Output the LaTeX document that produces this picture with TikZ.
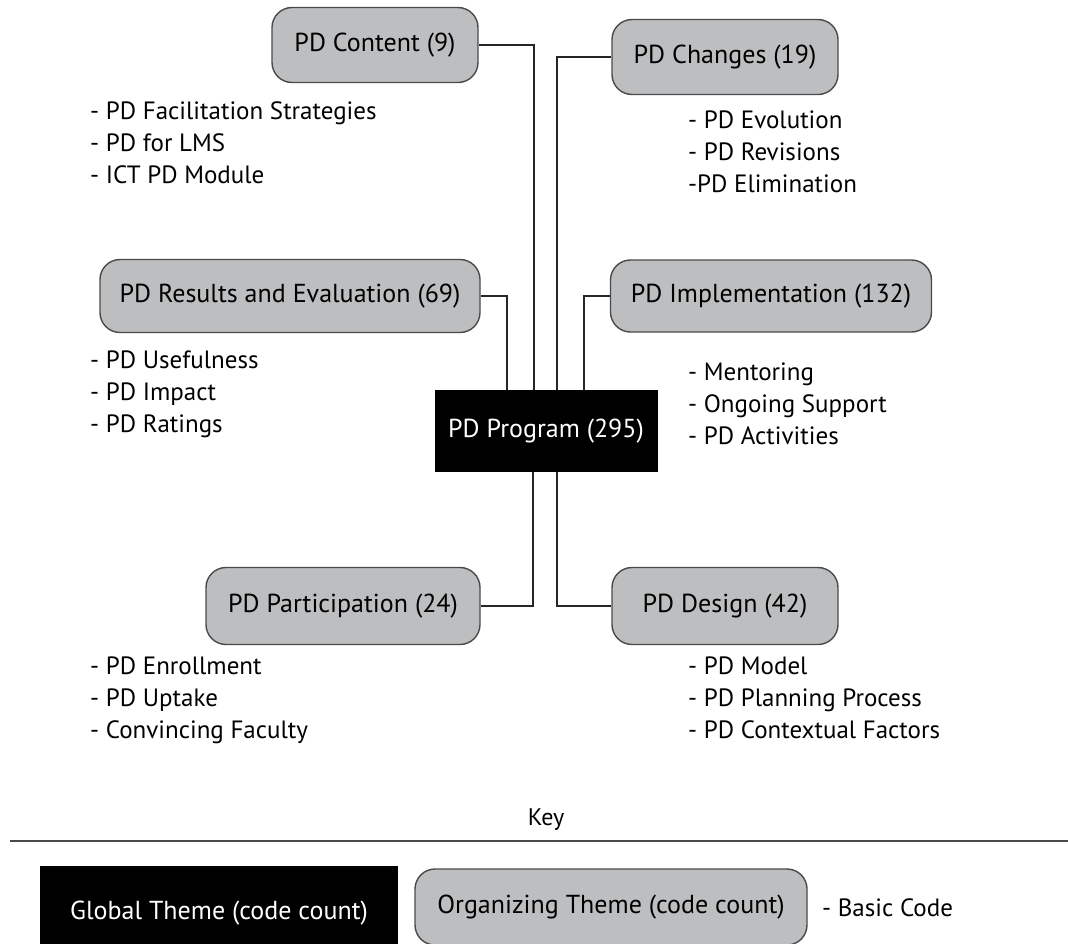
\documentclass[tikz,border=0pt]{standalone}
\usepackage{fontspec}
\setmainfont{PT Sans}
\usetikzlibrary{calc}
\definecolor{boxgray}{HTML}{BDBEC0}
\definecolor{edgegray}{HTML}{4A4A4A}
\tikzset{
  orgbox/.style={draw=edgegray, line width=1.4pt, fill=boxgray, rounded corners=20pt, inner sep=0pt, font=\fontsize{26}{30}\selectfont},
  globbox/.style={fill=black, text=white, inner sep=0pt, font=\fontsize{26}{30}\selectfont},
  codes/.style={anchor=west, align=left, inner sep=0pt, font=\fontsize{25}{32}\selectfont},
  conn/.style={draw=black!85, line width=1.1pt}
}
\begin{document}
\begin{tikzpicture}[x=1pt,y=-1pt]
\useasboundingbox (0,0) rectangle (1068,943);
% global theme
\node[globbox, minimum width=223pt, minimum height=82pt] (prog) at (546,431) {PD Program (295)};
% organizing themes
\node[orgbox, minimum width=206pt, minimum height=75pt] (content) at (375,45) {PD Content (9)};
\node[orgbox, minimum width=226pt, minimum height=75pt] (changes) at (725,57) {PD Changes (19)};
\node[orgbox, minimum width=380pt, minimum height=73pt] (results) at (290,296) {PD Results and Evaluation (69)};
\node[orgbox, minimum width=321pt, minimum height=72pt] (impl) at (771,296) {PD Implementation (132)};
\node[orgbox, minimum width=274pt, minimum height=77pt] (partic) at (343,606) {PD Participation (24)};
\node[orgbox, minimum width=226pt, minimum height=77pt] (design) at (725,606) {PD Design (42)};
% basic codes
\node[codes] (c1) at (90,143) {- PD Facilitation Strategies\\- PD for LMS\\- ICT PD Module};
\node[codes] (c2) at (688,152) {- PD Evolution\\- PD Revisions\\-PD Elimination};
\node[codes] (c3) at (90,394) {- PD Usefulness\\- PD Impact\\- PD Ratings};
\node[codes] (c4) at (688,404) {- Mentoring\\- Ongoing Support\\- PD Activities};
\node[codes] (c5) at (90,700) {- PD Enrollment\\- PD Uptake\\- Convincing Faculty};
\node[codes] (c6) at (688,698) {- PD Model\\- PD Planning Process\\- PD Contextual Factors};
% connection points on the global theme
\coordinate (tContent) at ($(prog.north)+(-12,0)$);
\coordinate (tChanges) at ($(prog.north)+(11,0)$);
\coordinate (tResults) at ($(prog.north)+(-39,0)$);
\coordinate (tImpl) at ($(prog.north)+(38,0)$);
\coordinate (bPartic) at ($(prog.south)+(-13,0)$);
\coordinate (bDesign) at ($(prog.south)+(11,0)$);
\draw[conn] (content.east) -| (tContent);
\draw[conn] (changes.west) -| (tChanges);
\draw[conn] (results.east) -| (tResults);
\draw[conn] (impl.west) -| (tImpl);
\draw[conn] (partic.east) -| (bPartic);
\draw[conn] (design.west) -| (bDesign);
% key
\node[font=\fontsize{24}{28}\selectfont, inner sep=0pt] (key) at (546,820) {Key};
\coordinate (kl) at (10,841);
\coordinate (kr) at (1068,841);
\draw[draw=edgegray, line width=1.8pt] (kl) -- (kr);
\node[globbox, minimum width=358pt, minimum height=94pt] (kglob) at (219,913) {\raisebox{-4pt}{Global Theme (code count)}};
\node[orgbox, minimum width=392pt, minimum height=76pt] (korg) at (611,907) {Organizing Theme (code count)};
\node[codes] (kcode) at (822,908) {- Basic Code};
\end{tikzpicture}
\end{document}
